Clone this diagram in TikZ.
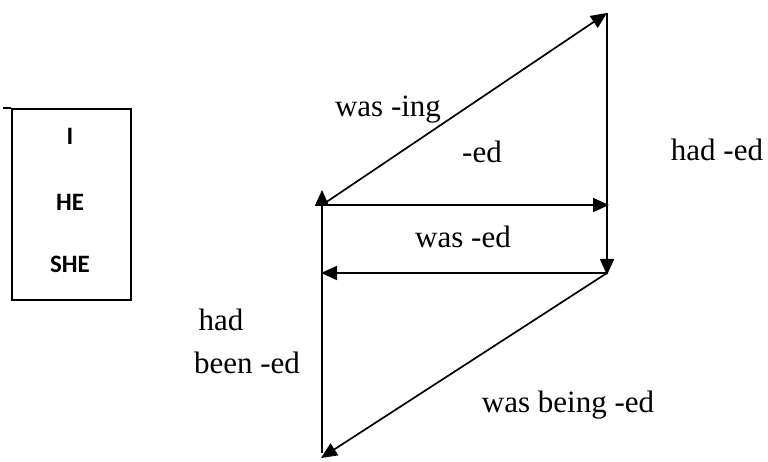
\documentclass[tikz,border=0pt]{standalone}
\usepackage{fontspec}
\setmainfont{Liberation Serif}
\newfontfamily\boxfont{Carlito}
\usetikzlibrary{arrows.meta}
\begin{document}
\begin{tikzpicture}[x=1pt,y=-1pt,
  conn/.style={line width=1.7pt,-{Triangle[length=16pt,width=14pt]}},
  lbl/.style={font=\fontsize{31}{33}\selectfont,inner sep=0pt},
  pron/.style={font=\boxfont\bfseries\fontsize{25}{27}\selectfont,inner sep=0pt}]
\useasboundingbox (0,0) rectangle (768,462);
% pronoun box
\node[draw,line width=1.7pt,minimum width=119pt,minimum height=191pt,inner sep=0pt,anchor=north west] (box) at (11,108) {};
\draw[line width=1.2pt] (box.north west) -- ++(-8,0);
\node[pron] (pi) at (70,136) {I};
\node[pron] (phe) at (70,202) {HE};
\node[pron] (pshe) at (70,264) {SHE};
% points
\coordinate (A) at (322,205);
\coordinate (Atip) at (322,190);
\coordinate (B) at (607,13);
\coordinate (C) at (607,275);
\coordinate (D) at (609,205);
\coordinate (E) at (321,273);
\coordinate (F) at (321,458);
\coordinate (Fl) at (322,453);
% connectors
\draw[conn] (A) -- (B);
\draw[conn] (B) -- (C);
\draw[conn] (A) -- (D);
\draw[conn] (607,273) -- (E);
\draw[conn] (607,273) -- (F);
\draw[conn] (Fl) -- (Atip);
% labels
\node[lbl] (l1) at (388,110) {was -ing};
\node[lbl] (l2) at (482,152) {-ed};
\node[lbl] (l3) at (717,150) {had -ed};
\node[lbl] (l4) at (463,237) {was -ed};
\node[lbl] (l5) at (221,320) {had};
\node[lbl] (l6) at (247,363) {been -ed};
\node[lbl] (l7) at (568,405) {was being -ed};
\end{tikzpicture}
\end{document}
